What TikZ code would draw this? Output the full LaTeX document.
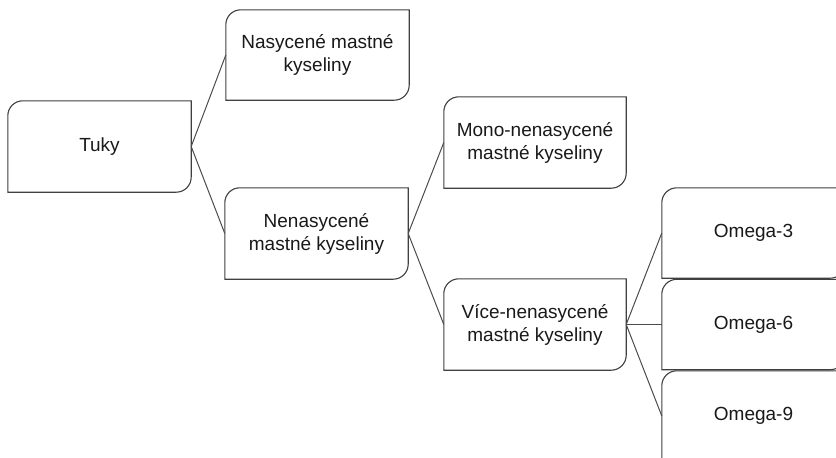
\documentclass[tikz,border=0pt]{standalone}
\usepackage{fontspec}
\setmainfont{Liberation Sans}
\tikzset{
  x=1pt, y=-1pt,
  txtbox/.style={rectangle, draw=none, align=center, inner sep=0pt,
    minimum width=183pt, minimum height=90pt, text=black!90,
    font=\fontsize{19}{23}\selectfont},
  outline/.style={draw=black!75, line width=1.1pt},
  conn/.style={draw=black!70, line width=1pt},
}
\newcommand{\snipbox}[1]{%
  \draw[outline] ([yshift=-15pt]#1.north west)
    arc[start angle=180, end angle=90, radius=15pt]
    -- (#1.north east) -- ([yshift=15pt]#1.south east)
    arc[start angle=0, end angle=-90, radius=15pt]
    -- (#1.south west) -- cycle;}
\begin{document}
\begin{tikzpicture}
\useasboundingbox (0,0) rectangle (836,458);
\clip (0,0) rectangle (836,458);
\fill[white] (0,0) rectangle (836,458);
\node[txtbox, minimum height=91pt] (tuky) at (99.5,146.5) {Tuky};
\node[txtbox] (nas) at (317.5,55) {Nasycené mastné\\kyseliny};
\node[txtbox, minimum height=91pt] (nen) at (316.5,233.5) {Nenasycené\\mastné kyseliny};
\node[txtbox, minimum width=182pt, minimum height=91pt] (mono) at (535,142.5) {Mono-nenasycené\\mastné kyseliny};
\node[txtbox, minimum width=182pt, minimum height=91pt] (vice) at (535,324.5) {Více-nenasycené\\mastné kyseliny};
\node[txtbox] (om3) at (753.5,233) {Omega-3};
\node[txtbox] (om6) at (753.5,324.5) {Omega-6};
\node[txtbox] (om9) at (753.5,416) {Omega-9};
\foreach \n in {tuky,nas,nen,mono,vice,om3,om6,om9}{\snipbox{\n}}
\draw[conn] (tuky.east) -- (nas.west);
\draw[conn] (tuky.east) -- (nen.west);
\draw[conn] (nen.east) -- (mono.west);
\draw[conn] (nen.east) -- (vice.west);
\draw[conn] (vice.east) -- (om3.west);
\draw[conn] (vice.east) -- (om6.west);
\draw[conn] (vice.east) -- (om9.west);
\end{tikzpicture}
\end{document}
